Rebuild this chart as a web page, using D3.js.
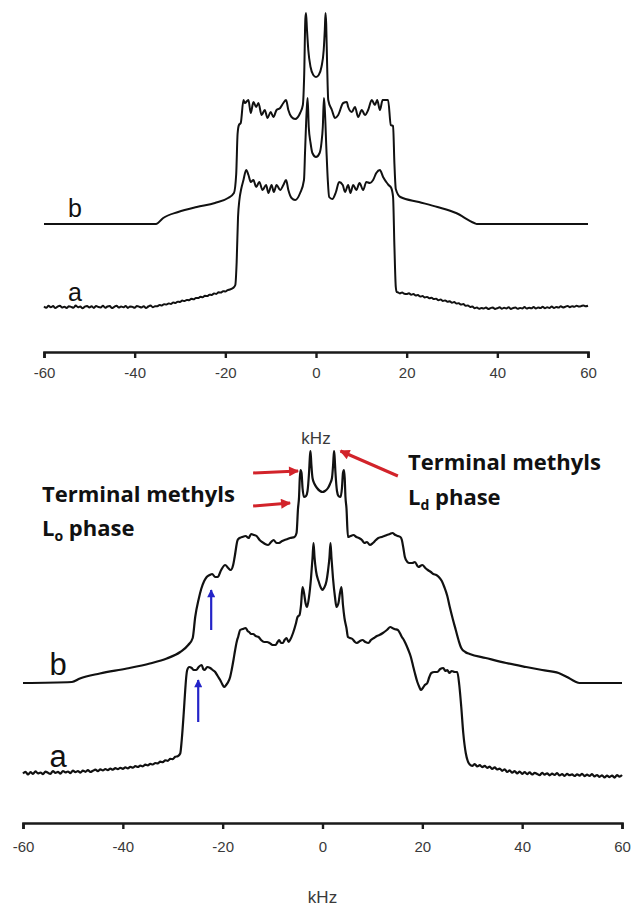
<!DOCTYPE html>
<html><head><meta charset="utf-8">
<script src="https://cdn.jsdelivr.net/npm/d3@7"></script>
<style>html,body{margin:0;padding:0;background:#fff;} svg{display:block;}</style>
</head><body>
<svg id="c" width="631" height="908"></svg>
<script>
// ---------------- DATA ----------------
const kHzTicks = [-60, -40, -20, 0, 20, 40, 60];
const axisTitle = "kHz";
const seriesNames = ["a", "b"];

// Upper panel, spectrum b: [kHz, intensity]
const topB = [[-60,0],[-35.3,0],[-33.7,6],[-30.4,12],[-26.3,17],[-22.3,21],[-19.4,26],[-18.1,31],[-17.6,50],[-17.3,90],[-17.0,99],[-16.6,101],[-16.0,124],
[-15.7,121],[-14.9,124],[-14.4,111],[-13.8,122],[-13.2,117],[-12.7,121],[-12.0,109],[-11.3,114],[-10.7,106],[-10.0,112],[-9.4,107],[-8.7,114],[-7.9,116],[-7.2,121],[-6.6,124],[-6.1,114],[-5.4,107],[-4.6,105],[-3.5,111],[-2.9,119],[-2.6,150],[-2.35,205],[-2.2,211],[-2.0,195],[-1.7,174],[-1.2,157],[-0.6,149],[0,147],[0.6,149],[1.2,157],[1.7,174],[1.95,195],[2.1,211],[2.25,200],[2.45,160],[2.7,124],
[3.5,114],[4.2,106],[4.9,109],[6.0,121],[6.8,122],[7.1,117],[7.9,112],[8.6,117],[9.3,107],[10.1,114],[10.8,109],[11.5,114],[12.3,124],[13.0,119],[13.5,124],[14.1,114],[14.7,124],[15.9,124],[16.5,99],[17.0,98],[17.3,60],[17.6,35],[18.6,27],[22.7,22],[26.8,17],[30.9,11],[34.9,1],[35.5,0],[60,0]];

// Upper panel, spectrum a
const topA = [[-60,0.5],[-59.5,-0.8],[-59,1.2],[-58.5,-0.3],[-58,0.9],[-57.5,-1.1],[-57,0.4],[-56.5,1.3],[-56,-0.6],[-55.5,0.2],[-55,-1.0],[-54.5,0.8],[-54,0.1],[-53.5,-0.7],[-53,1.4],[-52.5,-0.2],[-52,0.6],[-51.5,-1.2],[-51,0.3],[-50.5,1.0],[-50,-0.5],[-49.5,0.7],[-49,-0.9],[-48.5,1.1],[-48,0.0],[-47.5,-0.4],[-47,1.3],[-46.5,-0.8],[-46,0.5],[-45.5,0.9],[-45,-1.0],[-44.5,0.2],[-44,1.2],[-43.5,-0.6],[-43,0.4],[-42.5,-0.3],[-42,1.0],[-41.5,-0.9],[-41,0.6],[-40.5,0.1],[-40,-0.7],[-39.5,1.1],[-39,0.3],[-38.5,-0.5],[-38,0.8],[-37.5,-1.1],[-37,0.5],[-36.5,1.4],[-36,-0.2],[-35.5,0.7],[-35,0.8],[-34.5,1.9],[-34,1.5],[-33.5,2.8],[-33,2.4],[-32.5,3.6],[-32,3.1],[-31.5,4.4],[-31,4.0],[-30.5,5.3],[-30,5.0],[-29.5,6.4],[-29,5.9],[-28.5,7.1],[-28,6.8],[-27.5,8.2],[-27,7.7],[-26.5,9.0],[-26,8.9],[-25.5,10.3],[-25,9.8],[-24.5,11.2],[-24,10.9],[-23.5,12.3],[-23,12.0],[-22.5,13.6],[-22,13.1],[-21.5,14.7],[-21,14.4],[-20.5,15.8],[-20,15.5],[-19.5,16.9],
[-19,17.5],[-18.3,19],[-17.8,22],[-17.5,45],[-17.2,90],[-16.9,107],[-16.5,118],[-16.0,127],[-15.4,137],[-14.9,132],[-14.4,125],[-13.8,127],[-13.2,120],[-12.5,125],[-11.8,117],[-11.0,122],[-10.5,114],[-9.8,122],[-9.3,115],[-8.7,122],[-7.9,117],[-7.2,122],[-6.6,127],[-6.1,117],[-5.4,109],[-4.6,107],[-3.5,114],[-2.65,127],[-2.4,157],[-2.05,197],[-1.85,209],[-1.6,180],[-1.2,164],[-0.8,154],[0,150],[0.8,154],[1.2,164],[1.5,180],[1.75,209],[1.95,197],[2.3,157],[2.6,127],[2.9,110],[3.6,108],[4.4,115],[5.1,125],[5.9,122],[6.4,115],[7.1,122],[7.6,114],[8.2,122],[8.9,117],[9.6,124],[10.4,117],[11.1,125],[11.9,124],[12.6,127],[13.3,134],[14.1,137],[14.8,130],[15.5,125],[16.0,122],[16.6,119],[17.0,110],[17.3,60],[17.6,20],[17.8,15],
[18,14.8],[18.5,13.6],[19,14.5],[19.5,13.2],[20,12.9],[20.5,13.8],[21,12.2],[21.5,12.9],[22,11.5],[22.5,11.9],[23,10.4],[23.5,10.9],[24,9.6],[24.5,10.1],[25,8.7],[25.5,9.2],[26,7.9],[26.5,8.3],[27,6.8],[27.5,7.4],[28,6.1],[28.5,6.6],[29,5.2],[29.5,5.7],[30,4.3],[30.5,4.9],[31,3.4],[31.5,3.8],[32,2.4],[32.5,2.9],[33,1.2],[33.5,1.6],[34,0.1],[34.5,0.4],[35,-1.3],[35.5,-0.6],[36,-1.8],[36.5,-0.9],[37,-1.6],[37.5,-0.4],[38,-2.0],[38.5,-1.1],[39,-0.5],[39.5,-1.9],[40,-1.2],[40.5,-0.3],[41,-1.7],[41.5,-0.8],[42,-1.5],[42.5,-0.2],[43,-1.9],[43.5,-1.0],[44,-0.6],[44.5,-1.8],[45,-0.9],[45.5,-1.4],[46,-0.1],[46.5,-1.6],[47,-0.7],[47.5,-1.3],[48,0.0],[48.5,-1.5],[49,-0.4],[49.5,-1.1],[50,0.2],[50.5,-1.2],[51,-0.3],[51.5,-0.9],[52,0.4],[52.5,-1.0],[53,0.1],[53.5,-0.6],[54,0.7],[54.5,-0.5],[55,0.3],[55.5,1.1],[56,-0.2],[56.5,0.8],[57,0.2],[57.5,1.3],[58,0.5],[58.5,0.9],[59,1.6],[59.5,0.7],[60,1.2]];

// Lower panel, spectrum b
const botB = [[-60,0],[-50.2,1],[-48.6,4.5],[-44.6,9.5],[-39.2,14.5],[-34.6,19.5],[-31.2,24.5],[-28.5,31],[-26.9,38],[-26.0,45],[-25.5,66],[-24.8,84],[-24.3,94],[-23.7,102],[-23.2,106],[-22.6,108],[-22.1,109],[-21.5,106],[-21.0,106],[-20.3,113],[-19.5,118],[-18.9,115],[-18.4,113],[-17.9,118],[-17.6,126],[-17.0,143],[-16.6,145],[-16.1,146],[-15.4,147],[-14.8,145],[-14.3,149],[-13.7,148],[-13.2,147],[-12.6,143],[-12.1,141],[-11.5,139],[-10.9,138],[-10.3,141],[-9.8,143],[-9.2,140],[-8.7,140],[-8.1,142],[-7.6,143],[-7.0,144],[-6.5,145],[-5.6,146],[-5.2,150],[-4.9,175],[-4.7,186],[-4.55,205],[-4.4,213],[-4.2,210],[-4.0,195],[-3.7,186],[-3.3,187],[-3.0,192],[-2.7,210],[-2.5,228],[-2.4,232],[-2.25,220],[-2.0,205],[-1.6,199],[-1.1,195],[-0.5,192],[0,191],[0.5,192],[1.1,195],[1.5,199],[1.9,205],[2.15,220],[2.3,232],[2.4,228],[2.6,210],[2.9,192],[3.2,187],[3.6,186],[3.9,195],[4.1,210],[4.3,213],[4.45,205],[4.6,186],[4.8,175],[5.1,146],[5.6,147],[6.2,148],[6.8,146],[7.3,145],[7.9,143],[8.4,140],[8.9,141],[9.5,138],[10.1,140],[10.7,143],[11.2,145],[11.8,146],[12.4,147],[12.9,148],[13.5,149],[14.0,150],[14.6,148],[15.1,147],[15.6,146],[15.9,143],[16.2,135],[16.5,126],[17.0,121],[17.4,120],[18.0,120],[18.5,121],[19.2,116],[20.0,118],[20.6,115],[21.1,113],[21.7,111],[22.2,109],[22.8,108],[23.3,106],[23.9,102],[24.4,96],[25.0,87],[25.5,76],[26.1,64],[26.7,53],[27.3,42],[27.8,35],[28.6,31],[29.5,29],[32.7,25],[36.8,20],[40.8,16],[44.0,13],[47.3,10],[49.0,6],[50.6,1.5],[51.5,0],[60,0]];

// Lower panel, spectrum a
const botA = [[-60,-0.5],[-59.5,1.2],[-59,-1.5],[-58.5,0.8],[-58,-0.9],[-57.5,1.6],[-57,-0.3],[-56.5,0.5],[-56,-1.2],[-55.5,1.4],[-55,0.2],[-54.5,-0.8],[-54,1.9],[-53.5,0.1],[-53,1.1],[-52.5,-0.6],[-52,2.0],[-51.5,0.7],[-51,1.5],[-50.5,-0.2],[-50,2.3],[-49.5,0.9],[-49,1.8],[-48.5,0.4],[-48,2.4],[-47.5,1.2],[-47,2.8],[-46.5,1.0],[-46,2.2],[-45.5,3.4],[-45,1.9],[-44.5,3.6],[-44,2.5],[-43.5,4.0],[-43,2.9],[-42.5,4.3],[-42,3.3],[-41.5,4.9],[-41,3.8],[-40.5,5.2],[-40,4.2],[-39.5,5.6],[-39,4.6],[-38.5,6.1],[-38,5.3],[-37.5,6.8],[-37,6.0],[-36.5,7.4],[-36,6.7],[-35.5,8.3],[-35,7.6],[-34.5,9.1],[-34,8.5],[-33.5,10.0],[-33,9.6],[-32.5,11.3],[-32,10.8],[-31.5,12.7],[-31,12.2],[-30.5,14.1],[-30,13.9],[-29.5,16.2],[-29,16.8],[-28.5,19.5],
[-28.2,33],[-27.8,60],[-27.5,83],[-27.3,96],[-27.1,103],[-26.7,106],[-26.2,105],[-25.8,103],[-25.3,103],[-24.8,106],[-24.2,108],[-23.9,104],[-23.6,103],[-23.1,106],[-22.5,105],[-22.0,103],[-21.5,101],[-21.0,97],[-20.5,93],[-20.1,89],[-19.7,86],[-19.3,88],[-18.9,91],[-18.5,96],[-18.2,103],[-17.8,114],[-17.5,123],[-17.1,133],[-16.9,136],[-16.5,143],[-16.0,144],[-15.4,145],[-15.0,142],[-14.7,141],[-14.3,139],[-13.9,139],[-13.4,137],[-12.8,136],[-12.3,133],[-11.7,131],[-11.1,131],[-10.6,130],[-10.0,128],[-9.4,128],[-9.0,131],[-8.7,133],[-8.3,130],[-7.95,130],[-7.6,133],[-7.2,135],[-6.8,131],[-6.5,133],[-5.9,140],[-5.3,150],[-5.0,156],[-4.6,158],[-4.3,168],[-4.0,186],[-3.7,180],[-3.4,170],[-3.1,166],[-2.7,176],[-2.3,195],[-2.0,215],[-1.8,230],[-1.6,216],[-1.3,202],[-0.8,192],[-0.3,185],[0,183],[0.3,185],[0.8,192],[1.1,202],[1.4,216],[1.6,230],[1.8,215],[2.1,195],[2.5,176],[2.8,166],[3.2,170],[3.5,180],[3.8,186],[4.1,168],[4.4,155],[4.8,145],[5.1,136],[5.5,135],[6.0,134],[6.5,131],[6.9,130],[7.5,132],[8.0,133],[8.6,131],[9.2,130],[9.7,133],[10.3,135],[10.9,137],[11.4,138],[12.1,140],[12.9,143],[13.6,146],[14.0,145],[14.4,144],[15.1,143],[15.5,140],[15.9,136],[16.3,133],[16.6,130],[17.2,123],[17.7,116],[18.1,108],[18.5,100],[19.0,91],[19.4,86],[19.7,83],[20.1,85],[20.5,88],[21.0,90],[21.4,96],[21.8,100],[22.4,101],[23.0,101],[23.6,104],[24.2,105],[24.6,102],[25.0,103],[25.4,100],[25.9,102],[26.5,101],[27.0,101],[27.4,88],[27.8,66],[28.2,40],[28.7,20],[29.1,12],
[29.5,8.5],[30,7.2],[30.5,8.9],[31,6.6],[31.5,7.8],[32,5.9],[32.5,7.1],[33,5.2],[33.5,6.3],[34,4.1],[34.5,5.6],[35,3.5],[35.5,4.4],[36,2.2],[36.5,3.7],[37,1.0],[37.5,2.6],[38,0.3],[38.5,1.9],[39,-0.4],[39.5,1.4],[40,-0.8],[40.5,0.9],[41,-1.1],[41.5,0.6],[42,-1.5],[42.5,0.2],[43,-0.9],[43.5,-2.1],[44,0.1],[44.5,-1.6],[45,-0.3],[45.5,-2.3],[46,-0.7],[46.5,-1.9],[47,-0.2],[47.5,-2.5],[48,-1.0],[48.5,-2.8],[49,-0.9],[49.5,-2.2],[50,-1.4],[50.5,-3.0],[51,-1.3],[51.5,-2.6],[52,-0.8],[52.5,-3.1],[53,-1.7],[53.5,-2.9],[54,-1.2],[54.5,-3.4],[55,-2.0],[55.5,-3.8],[56,-2.3],[56.5,-4.5],[57,-2.7],[57.5,-4.1],[58,-2.5],[58.5,-4.6],[59,-2.1],[59.5,-3.7],[60,-1.9]];

const annoLeft = {line1: "Terminal methyls", main: "L", sub: "o", rest: " phase"};
const annoRight = {line1: "Terminal methyls", main: "L", sub: "d", rest: " phase"};

// ---------------- DRAW ----------------
const svg = d3.select("#c");
const INK = "#111";

const defs = svg.append("defs");
function marker(id, color, w, h) {
  defs.append("marker").attr("id", id).attr("viewBox", "0 0 10 10")
    .attr("refX", 9).attr("refY", 5).attr("markerUnits", "userSpaceOnUse")
    .attr("markerWidth", w).attr("markerHeight", h).attr("orient", "auto")
    .append("path").attr("d", "M0,0 L10,5 L0,10 Z").attr("fill", color);
}
marker("redHead", "#d2232a", 12, 10);
marker("blueHead", "#2424c8", 9, 8);

function panel(cfg) {
  const x = d3.scaleLinear().domain([-60, 60]).range(cfg.xr);
  const y = d3.scaleLinear().domain([0, 300]).range(cfg.yr);
  const g = svg.append("g");
  const line = (off) => d3.line().x(d => x(d[0])).y(d => y(d[1] + off)).curve(d3.curveMonotoneX);
  g.append("path").datum(cfg.a).attr("d", line(0)).attr("fill", "none")
    .attr("stroke", INK).attr("stroke-width", cfg.sw).attr("stroke-linejoin", "round");
  g.append("path").datum(cfg.b).attr("d", line(cfg.bOff)).attr("fill", "none")
    .attr("stroke", INK).attr("stroke-width", cfg.sw).attr("stroke-linejoin", "round");

  g.append("text").attr("x", cfg.labX).attr("y", y(cfg.aLabV)).attr("text-anchor", "middle")
    .attr("font-family", "Liberation Sans, Arial, sans-serif").attr("font-size", cfg.labFs)
    .attr("fill", INK).text(seriesNames[0]);
  g.append("text").attr("x", cfg.labX).attr("y", y(cfg.bLabV)).attr("text-anchor", "middle")
    .attr("font-family", "Liberation Sans, Arial, sans-serif").attr("font-size", cfg.labFs)
    .attr("fill", INK).text(seriesNames[1]);

  const ax = g.append("g").attr("transform", `translate(0,${cfg.axisY})`)
    .call(d3.axisBottom(x).tickValues(kHzTicks).tickFormat(d => String(d))
      .tickSize(6).tickSizeOuter(6).tickPadding(cfg.pad));
  ax.select(".domain").attr("stroke", "#1a1a1a").attr("stroke-width", 2.6);
  ax.selectAll(".tick line").attr("stroke", "#1a1a1a").attr("stroke-width", 2.4);
  ax.selectAll(".tick text").attr("font-family", "Liberation Sans, Arial, sans-serif")
    .attr("font-size", 15).attr("fill", "#3a3a3a");
  g.append("text").attr("x", x(0)).attr("y", cfg.titleY).attr("text-anchor", "middle")
    .attr("font-family", "Liberation Sans, Arial, sans-serif").attr("font-size", 17)
    .attr("fill", "#3a3a3a").text(axisTitle);
  return {x, y};
}

const topP = panel({a: topA, b: topB, bOff: 83, xr: [44, 588], yr: [307, 7], sw: 2,
  axisY: 352, pad: 9, titleY: 444, labX: 75, aLabV: 6, bLabV: 90, labFs: 25});
const botP = panel({a: botA, b: botB, bOff: 90, xr: [23, 622], yr: [773, 473], sw: 2.2,
  axisY: 823, pad: 12, titleY: 903, labX: 58, aLabV: 6, bLabV: 98, labFs: 31});

function arrow(p0, p1, head, color, w) {
  svg.append("line").attr("x1", botP.x(p0[0])).attr("y1", botP.y(p0[1]))
    .attr("x2", botP.x(p1[0])).attr("y2", botP.y(p1[1]))
    .attr("stroke", color).attr("stroke-width", w).attr("marker-end", `url(#${head})`);
}
arrow([-13.9, 300], [-4.9, 302], "redHead", "#d2232a", 3);
arrow([-13.9, 267], [-6.5, 270], "redHead", "#d2232a", 3);
arrow([15.1, 297], [3.6, 322], "redHead", "#d2232a", 3);
arrow([-22.3, 143], [-22.3, 183], "blueHead", "#2424c8", 2.2);
arrow([-24.9, 51], [-24.9, 93], "blueHead", "#2424c8", 2.2);

function anno(t, xPos, y1, y2) {
  const f = "'Open Sans', Lato, sans-serif";
  svg.append("text").attr("x", xPos).attr("y", y1).attr("font-family", f).attr("font-weight", 700)
    .attr("font-size", 22).attr("fill", INK).text(t.line1);
  const tx = svg.append("text").attr("x", xPos).attr("y", y2).attr("font-family", f)
    .attr("font-weight", 700).attr("font-size", 22).attr("fill", INK);
  tx.append("tspan").text(t.main);
  tx.append("tspan").attr("font-size", 14).attr("dy", 5).text(t.sub);
  tx.append("tspan").attr("dy", -5).text(t.rest);
}
anno(annoLeft, 42, 502, 536);
anno(annoRight, 408, 470, 505);
</script>
</body></html>
